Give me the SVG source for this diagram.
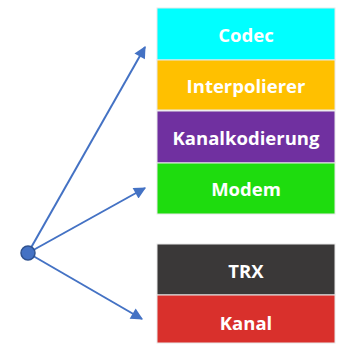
<svg xmlns="http://www.w3.org/2000/svg" width="343" height="344" viewBox="0 0 343 344">
<style>
.box{stroke:#e8e8e8;stroke-width:1}
.lbl{font-family:"Open Sans","Liberation Sans",sans-serif;font-weight:bold;font-size:18.5px;fill:#fff;text-anchor:middle;dominant-baseline:central}
.conn{stroke:#4472C4;stroke-width:2;fill:none;marker-end:url(#ah)}
</style>
<defs>
<marker id="ah" viewBox="0 0 10 10" refX="9" refY="5" markerWidth="7" markerHeight="6" orient="auto" markerUnits="strokeWidth">
<path d="M0,0 L10,5 L0,10 z" fill="#4472C4"/>
</marker>
</defs>
<rect width="343" height="344" fill="#fff"/>
<g id="codec"><rect class="box" x="157" y="8" width="178" height="52" fill="#00FFFF"/><text class="lbl" x="246" y="34">Codec</text></g>
<g id="interpolierer"><rect class="box" x="157" y="60" width="178" height="50" fill="#FFC000"/><text class="lbl" x="246" y="85">Interpolierer</text></g>
<g id="kanalkodierung"><rect class="box" x="157" y="111" width="178" height="52" fill="#7030A0"/><text class="lbl" x="246" y="137">Kanalkodierung</text></g>
<g id="modem"><rect class="box" x="157" y="163" width="178" height="51" fill="#1EDC0E"/><text class="lbl" x="246" y="188">Modem</text></g>
<g id="trx"><rect class="box" x="157" y="244" width="178" height="51" fill="#3A3838"/><text class="lbl" x="246" y="270">TRX</text></g>
<g id="kanal"><rect class="box" x="157" y="295" width="178" height="48" fill="#D9302C"/><text class="lbl" x="246" y="322">Kanal</text></g>
<g id="connectors">
<line class="conn" x1="28" y1="253" x2="145" y2="47"/>
<line class="conn" x1="28" y1="253" x2="145" y2="188"/>
<line class="conn" x1="28" y1="253" x2="142" y2="319"/>
</g>
<g id="source"><circle cx="28" cy="253" r="7" fill="#4472C4" stroke="#2F528F" stroke-width="1.5"/></g>
</svg>
